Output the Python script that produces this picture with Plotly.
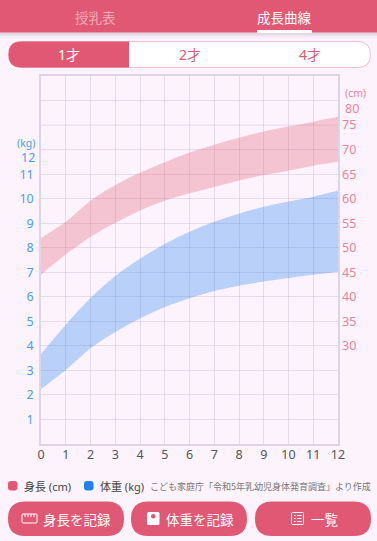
import plotly.graph_objects as go

months = list(range(13))
weight_low = [2.24, 3.02, 3.9, 4.57, 5.12, 5.58, 5.94, 6.24, 6.45, 6.62, 6.77, 6.9, 7.02]
weight_high = [3.67, 4.86, 5.95, 6.85, 7.55, 8.15, 8.65, 9.06, 9.39, 9.67, 9.88, 10.08, 10.33]
height_low = [44.5, 48.6, 52.2, 55.1, 57.6, 59.6, 61.1, 62.4, 63.7, 64.8, 65.7, 66.7, 67.5]
height_high = [52.0, 55.3, 59.6, 62.8, 65.3, 67.4, 69.4, 71.0, 72.4, 73.7, 74.7, 75.7, 76.7]
kg_ticks = list(range(1, 12))
cm_ticks = list(range(30, 80, 5))

W, H = 377, 541
L, R, T, B = 41, 338, 76, 444
FONT = "Noto Sans CJK JP"
NUMFONT = "Noto Sans, Noto Sans CJK JP"
BG = "#FDF3FD"
RED = "#E05873"
BLUE = "#4A9DF5"
PINKTXT = "#EE8299"
GRID = "rgba(120,90,130,0.16)"
FRAME = "#DDD4E8"

def px(x):
    return (x - L) / (R - L)

def py(y):
    return (B - y) / (B - T)

fig = go.Figure()
for low, high, color, axis in [
    (height_low, height_high, "rgba(224,88,115,0.30)", "y2"),
    (weight_low, weight_high, "rgba(30,130,240,0.30)", "y"),
]:
    fig.add_trace(go.Scatter(x=months, y=low, yaxis=axis, mode="lines", line=dict(width=0, shape="spline", smoothing=1),
                             showlegend=False, hoverinfo="skip"))
    fig.add_trace(go.Scatter(x=months, y=high, yaxis=axis, mode="lines", line=dict(width=0, shape="spline", smoothing=1),
                             fill="tonexty", fillcolor=color, showlegend=False, hoverinfo="skip"))

shapes, notes = [], []

def rrect(x0, y0, x1, y1, r, fill, line=None, rl=None, rr=None):
    rl = r if rl is None else rl
    rr = r if rr is None else rr
    pts = [f"M{px(x0+rl)},{py(y0)}", f"L{px(x1-rr)},{py(y0)}",
           f"Q{px(x1)},{py(y0)} {px(x1)},{py(y0+rr)}", f"L{px(x1)},{py(y1-rr)}",
           f"Q{px(x1)},{py(y1)} {px(x1-rr)},{py(y1)}", f"L{px(x0+rl)},{py(y1)}",
           f"Q{px(x0)},{py(y1)} {px(x0)},{py(y1-rl)}", f"L{px(x0)},{py(y0+rl)}",
           f"Q{px(x0)},{py(y0)} {px(x0+rl)},{py(y0)}", "Z"]
    shapes.append(dict(type="path", xref="paper", yref="paper", path=" ".join(pts), fillcolor=fill,
                       line=dict(width=1 if line else 0, color=line or fill), layer="below"))

def rect(x0, y0, x1, y1, fill):
    shapes.append(dict(type="rect", xref="paper", yref="paper", x0=px(x0), x1=px(x1), y0=py(y0), y1=py(y1),
                       fillcolor=fill, line=dict(width=0), layer="above"))

def text(x, y, s, size, color, anchor="center", family=FONT):
    notes.append(dict(xref="paper", yref="paper", x=px(x), y=py(y), text=s, showarrow=False, xanchor=anchor,
                      yanchor="middle", font=dict(family=family, size=size, color=color)))

# header
for i, a in enumerate([0.10, 0.07, 0.05, 0.035, 0.02, 0.01]):
    rrect(0, 32 + i, W, 34 + i, 0, f"rgba(90,60,90,{a})")
rrect(0, 0, W, 32.5, 0, RED)
rect(257, 30, 312, 33, "#FFFFFF")
text(95, 16.5, "授乳表", 13.5, "#F2A9B8")
text(284.5, 16.5, "成長曲線", 13.5, "#FFFFFF")

# segment control
rrect(8.5, 41.5, 370.5, 67.5, 13, "#FFFFFF", "#F3BFCB")
rrect(8.5, 41.5, 129, 67.5, 0, RED, rl=13, rr=0)
text(69, 54, "1才", 14, "#FFFFFF", family=NUMFONT)
text(190, 54, "2才", 14, RED, family=NUMFONT)
text(309.5, 54, "4才", 14, RED, family=NUMFONT)

# axis captions and offset labels
text(37, 142.5, "(kg)", 10.5, BLUE, "right", NUMFONT)
text(37, 157.5, "12", 12.5, BLUE, "right", NUMFONT)
text(343, 93.5, "(cm)", 10.5, PINKTXT, "left", NUMFONT)
text(343, 108.5, "80", 12.5, PINKTXT, "left", NUMFONT)

# legend
rrect(8, 481, 17.5, 490.5, 3, RED)
text(22, 486, "身長 (cm)", 11, "#444444", "left", NUMFONT)
rrect(84, 481, 93.5, 490.5, 3, "#1E82F0")
text(98, 486, "体重 (kg)", 11, "#444444", "left", NUMFONT)
text(373, 486, "こども家庭庁「令和5年乳幼児身体発育調査」より作成", 9, "#777777", "right")

# buttons
for x0, x1 in [(8, 124), (131, 247), (255, 371)]:
    rrect(x0, 501.5, x1, 536, 17, RED)
rrect(22, 514, 37, 523, 1, "rgba(0,0,0,0)", "#FFFFFF")
for tx in (25, 28, 31, 34):
    shapes.append(dict(type="line", xref="paper", yref="paper", x0=px(tx), x1=px(tx), y0=py(514), y1=py(517),
                       line=dict(color="#FFFFFF", width=1)))
text(76.5, 518.5, "身長を記録", 13.5, "#FFFFFF")
rrect(147, 512, 159.5, 525, 1.5, "#FFFFFF")
shapes.append(dict(type="circle", xref="paper", yref="paper", x0=px(151), x1=px(155.5), y0=py(514), y1=py(518.5),
                   fillcolor=RED, line=dict(width=0)))
text(200, 518.5, "体重を記録", 13.5, "#FFFFFF")
rrect(291.5, 512.5, 303.5, 524.5, 1, "rgba(0,0,0,0)", "#FFFFFF")
for ly in (515.5, 518.5, 521.5):
    shapes.append(dict(type="line", xref="paper", yref="paper", x0=px(294), x1=px(295.5), y0=py(ly), y1=py(ly),
                       line=dict(color="#FFFFFF", width=1)))
    shapes.append(dict(type="line", xref="paper", yref="paper", x0=px(297), x1=px(301.5), y0=py(ly), y1=py(ly),
                       line=dict(color="#FFFFFF", width=1)))
text(324, 518.5, "一覧", 13.5, "#FFFFFF")

fig.update_layout(
    width=W, height=H, autosize=False,
    margin=dict(l=L, r=W - R, t=T, b=H - B, pad=0),
    paper_bgcolor=BG, plot_bgcolor=BG,
    font=dict(family=FONT),
    shapes=shapes, annotations=notes,
    xaxis=dict(range=[0, 12], tickvals=months, ticks="", tickfont=dict(size=12.5, color="#555555", family=NUMFONT),
               gridcolor=GRID, gridwidth=1, showline=True, linecolor=FRAME, linewidth=1.5, mirror=True,
               zeroline=False, fixedrange=True, ticklabelstandoff=-2),
    yaxis=dict(range=[0, 15], tickvals=kg_ticks, ticks="", tickfont=dict(size=12.5, color=BLUE, family=NUMFONT),
               gridcolor=GRID, gridwidth=1, showline=True, linecolor=FRAME, linewidth=1.5, mirror=True,
               zeroline=False, fixedrange=True, ticklabelstandoff=3),
    yaxis2=dict(range=[10, 85], overlaying="y", side="right", tickvals=cm_ticks,
                tickfont=dict(size=12.5, color=PINKTXT, family=NUMFONT), ticks="", showgrid=False, zeroline=False,
                fixedrange=True, ticklabelstandoff=3),
)
for k in (12, 13, 14):
    fig.add_shape(type="line", xref="x", yref="y", x0=0, x1=12, y0=k, y1=k, line=dict(color=GRID, width=1), layer="between")

fig.write_html("out.html", config=dict(displayModeBar=False),
               post_script="document.body.style.margin='0';document.body.style.overflow='hidden';")
